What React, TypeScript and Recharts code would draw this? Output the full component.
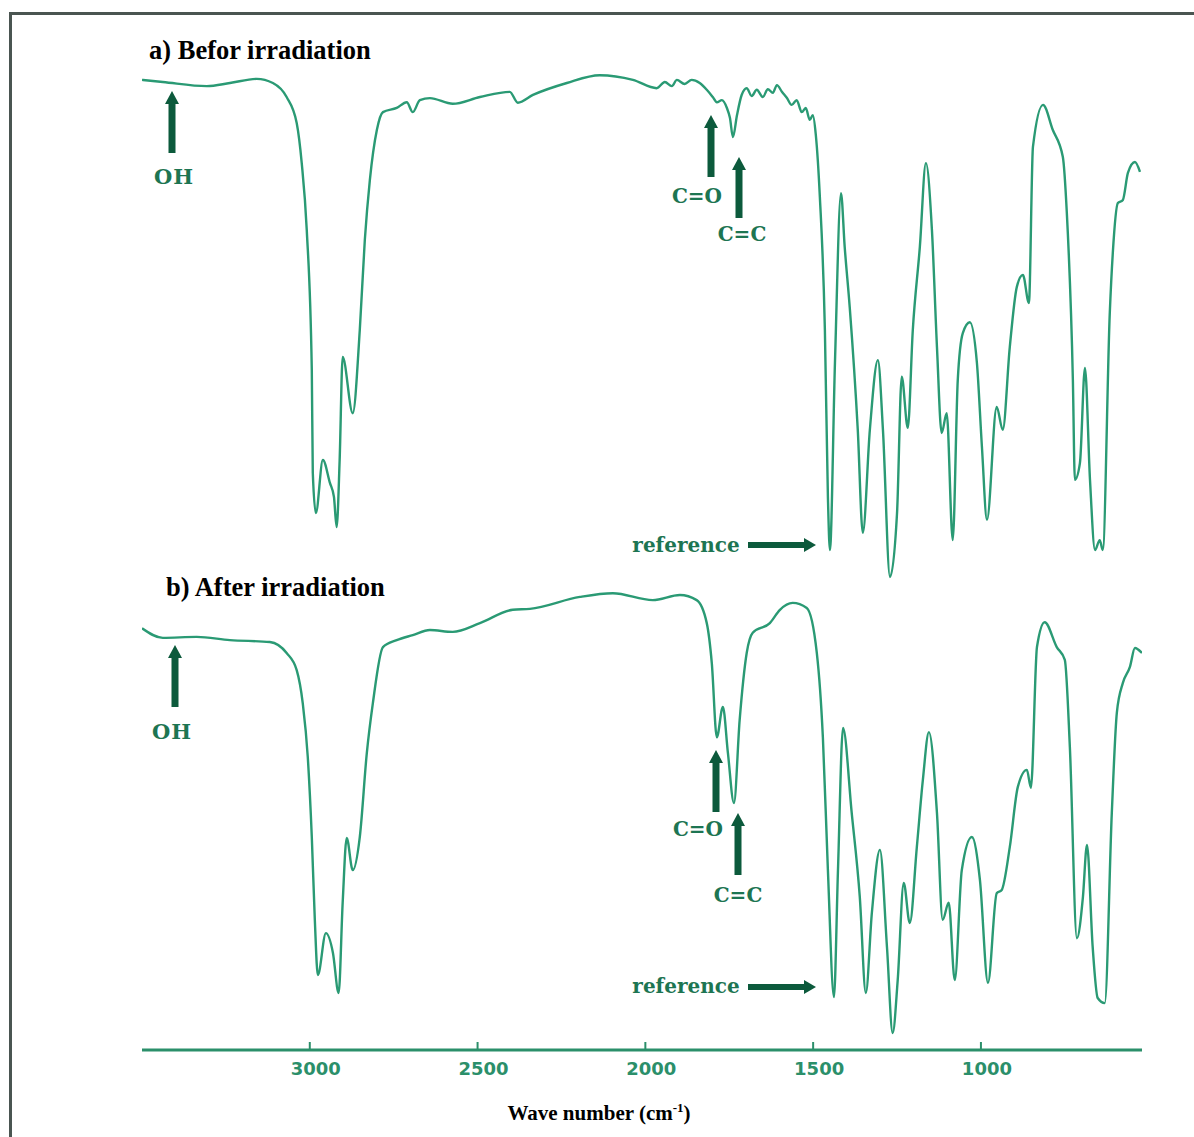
import React from 'react';
import { LineChart, Line, XAxis, YAxis } from 'recharts';

// wavenumber (cm-1) and relative transmittance (%)
const WAVE_A = [
  3500, 3438, 3307, 3238, 3158, 3110, 3069, 3039, 3024, 3009, 2994, 2991, 2982, 2961, 2940, 2928,
  2920, 2911, 2902, 2872, 2851, 2836, 2821, 2800, 2782, 2741, 2711, 2693, 2672, 2642, 2574, 2493,
  2404, 2380, 2335, 2234, 2136, 2037, 1966, 1942, 1921, 1906, 1883, 1862, 1838, 1817, 1799, 1787,
  1772, 1757, 1748, 1739, 1727, 1713, 1698, 1683, 1668, 1650, 1635, 1620, 1608, 1593, 1578, 1564,
  1549, 1534, 1522, 1510, 1501, 1492, 1480, 1465, 1456, 1450, 1435, 1417, 1406, 1391, 1367, 1352,
  1331, 1307, 1292, 1271, 1250, 1236, 1218, 1203, 1182, 1164, 1146, 1131, 1117, 1102, 1084, 1069,
  1054, 1033, 1012, 997, 982, 953, 935, 914, 893, 875, 857, 845, 815, 786, 756, 744,
  726, 720, 705, 690, 675, 660, 646, 637, 616, 607, 592, 577, 562, 541, 526,
];
const TRANS_A = [
  98.1, 97.7, 96.9, 97.5, 98.3, 97.5, 94.8, 89.8, 82.1, 69.2, 42.3, 22.5, 14.8, 25.0, 20.6, 17.9,
  12.1, 25.0, 44.8, 34.0, 50.0, 67.3, 78.8, 88.5, 91.9, 92.7, 93.8, 91.9, 94.2, 94.6, 93.5, 94.8,
  95.8, 93.7, 95.2, 97.5, 99.0, 98.1, 96.5, 97.7, 96.9, 98.1, 97.3, 98.1, 97.5, 96.2, 94.8, 93.8,
  94.2, 92.7, 90.8, 87.1, 91.3, 95.2, 96.5, 95.0, 96.2, 94.8, 96.3, 95.6, 97.1, 95.8, 94.6, 93.3,
  94.2, 91.9, 92.7, 90.4, 91.3, 87.5, 75.6, 50.0, 17.9, 7.7, 43.7, 76.3, 66.0, 54.4, 30.8, 11.0,
  30.8, 44.2, 30.8, 2.5, 14.8, 41.0, 31.2, 50.0, 66.0, 82.1, 69.2, 46.7, 30.2, 34.0, 9.6, 40.4,
  49.4, 51.5, 43.7, 27.5, 13.5, 35.2, 30.8, 46.7, 58.3, 60.6, 55.2, 85.2, 93.3, 88.5, 83.3, 72.5,
  40.4, 21.2, 24.4, 42.7, 21.2, 7.7, 9.6, 7.7, 53.3, 64.8, 74.4, 75.0, 80.2, 82.3, 80.4,
];

const WAVE_B = [
  3500, 3438, 3337, 3238, 3119, 3069, 3039, 3021, 3006, 2994, 2985, 2976, 2952, 2931, 2914, 2902,
  2890, 2872, 2851, 2830, 2812, 2782, 2741, 2693, 2642, 2574, 2493, 2395, 2344, 2195, 2097, 1978,
  1897, 1847, 1817, 1802, 1787, 1769, 1754, 1736, 1719, 1698, 1680, 1629, 1599, 1561, 1519, 1489,
  1471, 1456, 1438, 1426, 1411, 1385, 1361, 1343, 1325, 1301, 1280, 1263, 1248, 1230, 1212, 1191,
  1173, 1155, 1131, 1114, 1096, 1078, 1057, 1027, 1003, 979, 953, 938, 914, 890, 863, 851,
  833, 810, 774, 750, 735, 714, 696, 684, 667, 652, 631, 610, 595, 577, 556, 541, 520,
];
const TRANS_B = [
  91.7, 89.6, 89.8, 89.1, 88.7, 86.3, 82.6, 75.4, 63.7, 46.3, 28.3, 16.3, 25.4, 21.1, 12.4, 32.0,
  46.1, 39.1, 46.3, 64.6, 75.4, 87.6, 89.1, 90.2, 91.3, 90.9, 92.8, 95.7, 95.9, 98.5, 99.3, 97.8,
  98.9, 97.8, 92.8, 84.1, 68.0, 74.6, 64.6, 53.7, 71.7, 86.3, 90.7, 92.8, 95.7, 97.2, 96.1, 86.3,
  68.0, 39.1, 11.5, 39.1, 70.0, 51.5, 33.3, 12.4, 29.8, 43.5, 22.4, 3.7, 15.2, 36.3, 27.6, 44.1,
  58.7, 69.1, 51.5, 28.3, 32.0, 15.2, 39.1, 46.3, 37.0, 14.6, 34.1, 34.8, 44.1, 57.2, 60.9, 57.0,
  87.6, 93.0, 87.6, 84.8, 65.9, 24.3, 33.3, 44.6, 22.4, 11.3, 10.2, 51.5, 73.3, 79.8, 83.3, 87.4, 86.3,
];

const WAVE_TICKS = [3000, 2500, 2000, 1500, 1000];
const WAVE_DOMAIN = [520, 3500];

const dataA = WAVE_A.map((w, i) => ({ w, t: TRANS_A[i] }));
const dataB = WAVE_B.map((w, i) => ({ w, t: TRANS_B[i] }));

const CURVE = '#2a9a74';
const AXIS = '#2b8f6a';
const ARROW = '#0c5a3c';
const LABEL = '#1d7552';

const WaveTick = (props: any) => {
  const { x, y, payload } = props;
  return (
    <g>
      <line x1={x} x2={x} y1={y - 8} y2={y} stroke={AXIS} strokeWidth={2} />
      <text
        x={x + 6}
        y={y + 25}
        textAnchor="middle"
        fill={AXIS}
        fontFamily="'DejaVu Sans', sans-serif"
        fontWeight="bold"
        fontSize={18}
      >
        {payload.value}
      </text>
    </g>
  );
};

function UpArrow({ x, top, bottom }: { x: number; top: number; bottom: number }) {
  return (
    <g fill={ARROW}>
      <polygon points={`${x},${top} ${x - 7},${top + 13} ${x + 7},${top + 13}`} />
      <rect x={x - 3.5} y={top + 11} width={7} height={bottom - top - 11} />
    </g>
  );
}

function RightArrow({ left, right, y }: { left: number; right: number; y: number }) {
  return (
    <g fill={ARROW}>
      <rect x={left} y={y - 3} width={right - left - 10} height={6} />
      <polygon points={`${right},${y} ${right - 12},${y - 7} ${right - 12},${y + 7}`} />
    </g>
  );
}

const tagStyle = {
  fontFamily: "'DejaVu Serif', serif",
  fontWeight: 'bold' as const,
  fill: LABEL,
};

export default function App() {
  return (
    <div style={{ position: 'absolute', left: 0, top: 0, width: 1194, height: 1137, background: '#fff' }}>
      <div
        style={{
          position: 'absolute',
          left: 9,
          top: 12,
          right: 0,
          bottom: 0,
          borderTop: '3px solid #4a5551',
          borderLeft: '3px solid #4a5551',
        }}
      />
      <div style={{ position: 'absolute', left: 142, top: 70 }}>
        <LineChart width={1000} height={520} data={dataA} margin={{ top: 0, right: 0, bottom: 0, left: 0 }}>
          <XAxis dataKey="w" type="number" domain={WAVE_DOMAIN} reversed hide />
          <YAxis domain={[0, 100]} hide />
          <Line
            type="monotone"
            dataKey="t"
            stroke={CURVE}
            strokeWidth={2.4}
            dot={false}
            isAnimationActive={false}
          />
        </LineChart>
      </div>
      <div style={{ position: 'absolute', left: 142, top: 590 }}>
        <LineChart width={1000} height={520} data={dataB} margin={{ top: 0, right: 0, bottom: 0, left: 0 }}>
          <XAxis
            dataKey="w"
            type="number"
            domain={WAVE_DOMAIN}
            reversed
            ticks={WAVE_TICKS}
            height={60}
            tickSize={0}
            tickMargin={0}
            tickLine={false}
            axisLine={{ stroke: AXIS, strokeWidth: 3 }}
            tick={<WaveTick />}
          />
          <YAxis domain={[0, 100]} hide />
          <Line
            type="monotone"
            dataKey="t"
            stroke={CURVE}
            strokeWidth={2.4}
            dot={false}
            isAnimationActive={false}
          />
        </LineChart>
      </div>
      <svg
        width={1194}
        height={1137}
        style={{ position: 'absolute', left: 0, top: 0, pointerEvents: 'none' }}
      >
        <text x={149} y={59} fontFamily="'Liberation Serif', serif" fontWeight="bold" fontSize={26.5} fill="#000">
          a) Befor irradiation
        </text>
        <text x={166} y={596} fontFamily="'Liberation Serif', serif" fontWeight="bold" fontSize={26.5} fill="#000">
          b) After irradiation
        </text>
        <text
          x={599}
          y={1120}
          textAnchor="middle"
          fontFamily="'Liberation Serif', serif"
          fontWeight="bold"
          fontSize={21}
          fill="#000"
        >
          Wave number (cm<tspan dy={-8} fontSize={13}>-1</tspan>
          <tspan dy={8}>)</tspan>
        </text>

        <UpArrow x={172} top={91} bottom={153} />
        <text x={174} y={184} textAnchor="middle" fontSize={21} letterSpacing={1} {...tagStyle}>OH</text>
        <UpArrow x={711} top={115} bottom={177} />
        <text x={697} y={203} textAnchor="middle" fontSize={20} {...tagStyle}>C=O</text>
        <UpArrow x={739} top={157} bottom={218} />
        <text x={742} y={241} textAnchor="middle" fontSize={20} {...tagStyle}>C=C</text>
        <text x={686} y={552} textAnchor="middle" fontSize={20} {...tagStyle}>reference</text>
        <RightArrow left={748} right={816} y={545} />

        <UpArrow x={175} top={645} bottom={707} />
        <text x={172} y={739} textAnchor="middle" fontSize={21} letterSpacing={1} {...tagStyle}>OH</text>
        <UpArrow x={716} top={750} bottom={812} />
        <text x={698} y={836} textAnchor="middle" fontSize={20} {...tagStyle}>C=O</text>
        <UpArrow x={738} top={813} bottom={875} />
        <text x={738} y={902} textAnchor="middle" fontSize={20} {...tagStyle}>C=C</text>
        <text x={686} y={993} textAnchor="middle" fontSize={20} {...tagStyle}>reference</text>
        <RightArrow left={748} right={816} y={987} />
      </svg>
    </div>
  );
}
